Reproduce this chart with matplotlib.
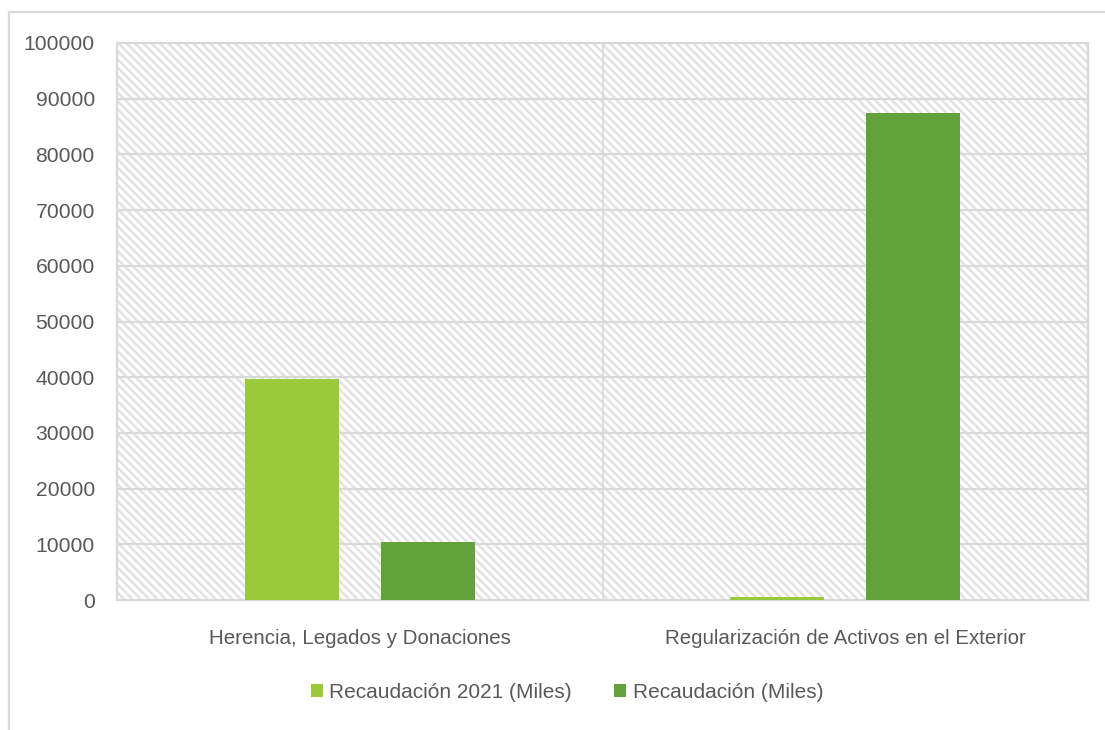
import numpy as np
import matplotlib
matplotlib.use("Agg")
import matplotlib.pyplot as plt
from matplotlib.lines import Line2D
from matplotlib.patches import Rectangle

categorias = ["Herencia, Legados y Donaciones", "Regularización de Activos en el Exterior"]
series = ["Recaudación 2021 (Miles)", "Recaudación (Miles)"]
rec_2021 = [39600, 500]
rec = [10500, 87500]
yticks = [0, 10000, 20000, 30000, 40000, 50000, 60000, 70000, 80000, 90000, 100000]

c_claro = "#9ACA3C"
c_oscuro = "#63A23A"
gris = "#d9d9d9"
texto = "#595959"

plt.rcParams['font.family'] = ['Liberation Sans Narrow', 'Liberation Sans', 'DejaVu Sans']
plt.rcParams['hatch.color'] = "#e2e2e2"
plt.rcParams['hatch.linewidth'] = 1.8

fig = plt.figure(figsize=(11.05, 7.3), dpi=100)
ax = fig.add_axes([117/1105, 130/730, 971/1105, 557/730])

# fondo rayado
ax.add_patch(Rectangle((0, 0), 1, 1, transform=ax.transAxes, facecolor="white",
                       edgecolor="#e2e2e2", hatch='\\\\\\\\', linewidth=0, zorder=0))

x = np.arange(len(categorias))
ancho = 0.194
ax.bar(x - 0.14, rec_2021, ancho, color=c_claro, label=series[0], zorder=3)
ax.bar(x + 0.14, rec, ancho, color=c_oscuro, label=series[1], zorder=3)

ax.set_xlim(-0.5, 1.5)
ax.set_ylim(0, 100000)
ax.set_yticks(yticks)
ax.set_yticklabels([str(v) for v in yticks], fontsize=15.2, color=texto)
ax.set_xticks(x)
ax.set_xticklabels(categorias, fontsize=14.8, color=texto)
ax.tick_params(length=0, axis='y', pad=16)
ax.tick_params(length=0, axis='x', pad=21)

for v in yticks[1:-1]:
    ax.axhline(v, color=gris, linewidth=1.6, zorder=1)
ax.axvline(0.5, color=gris, linewidth=1.2, zorder=1)
for s in ax.spines.values():
    s.set_color(gris)
    s.set_linewidth(1.6)
    s.set_zorder(2)

leg = fig.legend(loc='center', bbox_to_anchor=(0.513, 1 - 692/730), ncol=2, frameon=False,
                 fontsize=15, handlelength=0.6, handleheight=0.6, handletextpad=0.3,
                 columnspacing=2.0)
for t in leg.get_texts():
    t.set_color(texto)

# borde exterior
fig.add_artist(Line2D([9/1105, 1.0], [1 - 12/730, 1 - 12/730], transform=fig.transFigure,
                      color=gris, linewidth=1.6))
fig.add_artist(Line2D([9/1105, 9/1105], [0.0, 1 - 12/730], transform=fig.transFigure,
                      color=gris, linewidth=1.6))

fig.savefig("out.png", dpi=100)
